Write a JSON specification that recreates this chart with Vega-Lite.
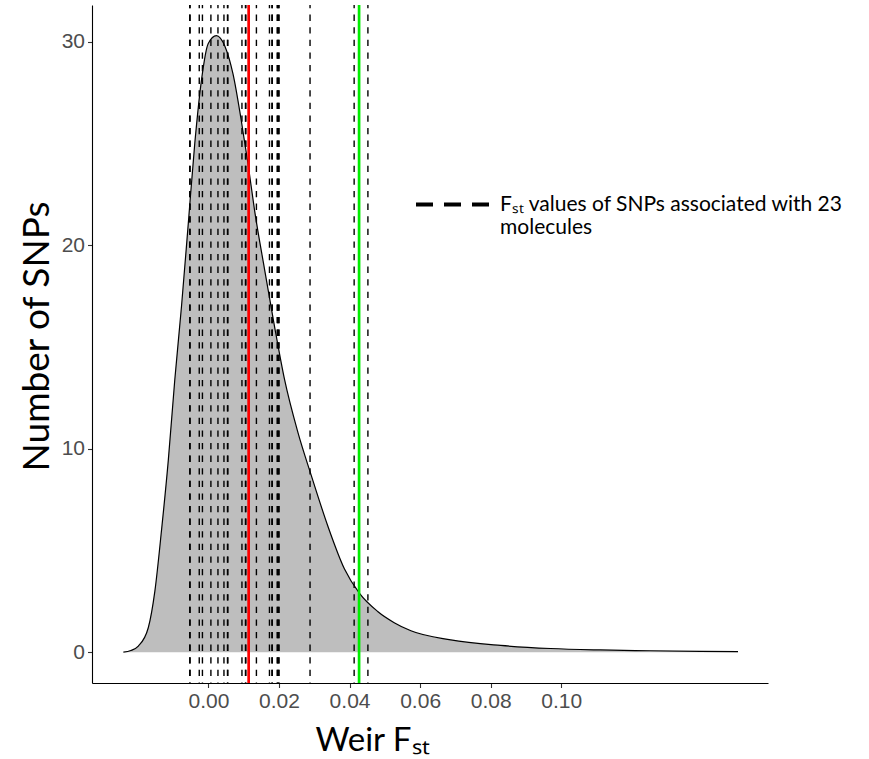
{
  "$schema": "https://vega.github.io/schema/vega-lite/v6.json",
  "width": 676,
  "height": 678,
  "autosize": {"type": "none"},
  "padding": {"left": 92, "top": 5, "right": 101, "bottom": 76},
  "background": "white",
  "config": {
    "view": {"stroke": null},
    "axis": {
      "grid": false,
      "domainColor": "black",
      "domainWidth": 1.1,
      "tickColor": "#333333",
      "tickSize": 4.5,
      "tickWidth": 1.1,
      "labelColor": "#4d4d4d",
      "labelFont": "Liberation Sans",
      "labelFontSize": 21,
      "titleFont": "Lato",
      "titleFontWeight": "normal",
      "titleColor": "black",
      "titleFontSize": 33
    }
  },
  "datasets": {
    "density": [
      {"fst": -0.02411, "count": 0.0},
      {"fst": -0.02200, "count": 0.08},
      {"fst": -0.01987, "count": 0.3},
      {"fst": -0.01705, "count": 1.2},
      {"fst": -0.01518, "count": 3.0},
      {"fst": -0.01329, "count": 6.0},
      {"fst": -0.01139, "count": 9.4},
      {"fst": -0.00953, "count": 13.4},
      {"fst": -0.00763, "count": 17.0},
      {"fst": -0.00574, "count": 21.0},
      {"fst": -0.00387, "count": 25.0},
      {"fst": -0.00198, "count": 28.1},
      {"fst": -0.00008, "count": 29.9},
      {"fst": 0.00226, "count": 30.3},
      {"fst": 0.00461, "count": 29.8},
      {"fst": 0.00698, "count": 28.4},
      {"fst": 0.00933, "count": 26.1},
      {"fst": 0.01122, "count": 24.0},
      {"fst": 0.01309, "count": 21.7},
      {"fst": 0.01592, "count": 18.8},
      {"fst": 0.01874, "count": 16.0},
      {"fst": 0.02157, "count": 13.4},
      {"fst": 0.02536, "count": 10.8},
      {"fst": 0.02912, "count": 8.7},
      {"fst": 0.03384, "count": 6.2},
      {"fst": 0.03853, "count": 4.1},
      {"fst": 0.04277, "count": 2.9},
      {"fst": 0.04797, "count": 2.0},
      {"fst": 0.05266, "count": 1.45},
      {"fst": 0.05739, "count": 1.05},
      {"fst": 0.06869, "count": 0.6},
      {"fst": 0.08283, "count": 0.33},
      {"fst": 0.09696, "count": 0.18},
      {"fst": 0.1111, "count": 0.11},
      {"fst": 0.1252, "count": 0.07},
      {"fst": 0.1394, "count": 0.04},
      {"fst": 0.1501, "count": 0.03}
    ],
    "snps": [
      {"fst": -0.0053, "label": "snp"},
      {"fst": -0.0052, "label": "snp"},
      {"fst": -0.0026, "label": "snp"},
      {"fst": -0.0017, "label": "snp"},
      {"fst": 0.0007, "label": "snp"},
      {"fst": 0.0027, "label": "snp"},
      {"fst": 0.0044, "label": "snp"},
      {"fst": 0.0054, "label": "snp"},
      {"fst": 0.0055, "label": "snp"},
      {"fst": 0.0095, "label": "snp"},
      {"fst": 0.0105, "label": "snp"},
      {"fst": 0.0106, "label": "snp"},
      {"fst": 0.0136, "label": "snp"},
      {"fst": 0.0173, "label": "snp"},
      {"fst": 0.0180, "label": "snp"},
      {"fst": 0.0181, "label": "snp"},
      {"fst": 0.0195, "label": "snp"},
      {"fst": 0.0196, "label": "snp"},
      {"fst": 0.0199, "label": "snp"},
      {"fst": 0.0200, "label": "snp"},
      {"fst": 0.0288, "label": "snp"},
      {"fst": 0.0413, "label": "snp"},
      {"fst": 0.0452, "label": "snp"}
    ],
    "lines": [
      {"fst": 0.0114, "stat": "mean"},
      {"fst": 0.0427, "stat": "upper"}
    ]
  },
  "layer": [
    {
      "data": {"name": "density"},
      "mark": {"type": "area", "color": "#bebebe", "opacity": 1, "interpolate": "monotone", "line": {"color": "black", "strokeWidth": 1.2}},
      "encoding": {
        "x": {
          "field": "fst", "type": "quantitative",
          "scale": {"domain": [-0.0330, 0.1586], "nice": false, "zero": false},
          "axis": {"values": [0, 0.02, 0.04, 0.06, 0.08, 0.1], "format": ".2f", "title": "Weir Fₛₜ", "labelPadding": 3, "titleX": 280, "titleY": 67, "titleAlign": "center", "titleBaseline": "alphabetic"}
        },
        "y": {
          "field": "count", "type": "quantitative",
          "scale": {"domain": [-1.515, 31.8], "nice": false},
          "axis": {"values": [0, 10, 20, 30], "title": "Number of SNPs", "titleFontSize": 37, "labelPadding": 3, "titlePadding": 5, "titleY": 331, "titleAlign": "center"}
        }
      }
    },
    {
      "data": {"name": "snps"},
      "mark": {"type": "rule", "strokeDash": [6.3, 6.3], "strokeDashOffset": 3, "strokeWidth": 1.4},
      "encoding": {
        "x": {"field": "fst", "type": "quantitative"},
        "color": {
          "field": "label", "type": "nominal",
          "scale": {"range": ["black"]},
          "legend": {
            "orient": "none", "legendX": 322, "legendY": 161, "title": null,
            "symbolType": "stroke", "symbolSize": 5329, "symbolStrokeWidth": 4,
            "symbolDash": [17, 11],
            "labelFont": "Lato", "labelFontSize": 21, "labelColor": "black",
            "labelOffset": 9, "labelLimit": 0,
            "labelExpr": "['Fₛₜ values of SNPs associated with 23', 'molecules']"
          }
        }
      }
    },
    {
      "data": {"name": "lines"},
      "mark": {"type": "rule", "strokeWidth": 2.7},
      "encoding": {
        "x": {"field": "fst", "type": "quantitative"},
        "stroke": {
          "field": "stat", "type": "nominal",
          "scale": {"domain": ["mean", "upper"], "range": ["#ff0000", "#00ee00"]},
          "legend": null
        }
      }
    }
  ]
}
